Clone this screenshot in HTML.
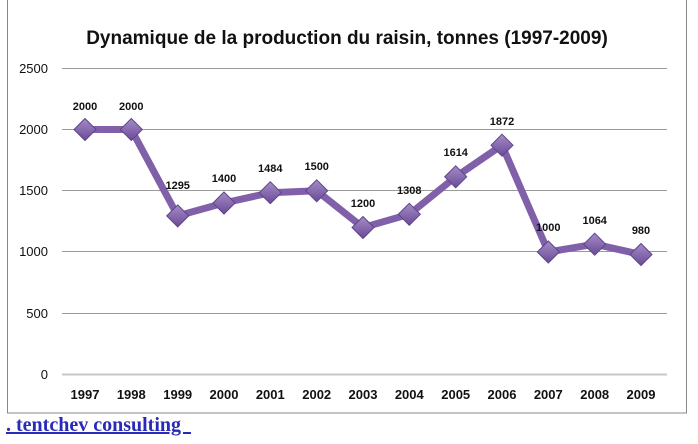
<!DOCTYPE html>
<html><head><meta charset="utf-8"><style>
body{margin:0;background:#fff;width:698px;height:444px;overflow:hidden}
a{position:absolute;left:6px;top:414px;font:bold 20px "Liberation Serif",serif;color:#2a2ab8;text-decoration:underline;white-space:pre}
</style></head><body>
<svg width="698" height="444" style="position:absolute;left:0;top:0" font-family="Liberation Sans, sans-serif">
<defs><linearGradient id="g" x1="0" y1="0" x2="0" y2="1"><stop offset="0" stop-color="#a58cc8"/><stop offset="1" stop-color="#6a4a96"/></linearGradient></defs>
<rect x="7.5" y="-2" width="679" height="415" fill="#fff" stroke="#888" stroke-width="1"/>
<text x="347" y="44" text-anchor="middle" font-size="19" font-weight="bold" fill="#111">Dynamique de la production du raisin, tonnes (1997-2009)</text>
<g stroke="#9a9a9a" stroke-width="1">
<line x1="62" x2="667" y1="68.5" y2="68.5"/><line x1="62" x2="667" y1="129.5" y2="129.5"/><line x1="62" x2="667" y1="190.5" y2="190.5"/><line x1="62" x2="667" y1="251.5" y2="251.5"/><line x1="62" x2="667" y1="313.5" y2="313.5"/><line x1="62" x2="667" y1="374.5" y2="374.5" stroke="#c8c8c8" stroke-width="2"/>
</g>
<g font-size="13" fill="#111" text-anchor="end">
<text x="48" y="73">2500</text><text x="48" y="134">2000</text><text x="48" y="195">1500</text><text x="48" y="256">1000</text><text x="48" y="318">500</text><text x="48" y="379">0</text>
</g>
<g font-size="13" font-weight="bold" fill="#111" text-anchor="middle">
<text x="85" y="399">1997</text><text x="131.3" y="399">1998</text><text x="177.7" y="399">1999</text><text x="224" y="399">2000</text><text x="270.3" y="399">2001</text><text x="316.7" y="399">2002</text><text x="363" y="399">2003</text><text x="409.3" y="399">2004</text><text x="455.7" y="399">2005</text><text x="502" y="399">2006</text><text x="548.3" y="399">2007</text><text x="594.7" y="399">2008</text><text x="641" y="399">2009</text>
</g>
<polyline fill="none" stroke="#8060a8" stroke-width="7" stroke-linejoin="round" points="85,129.5 131.3,129.5 177.7,215.9 224,203 270.3,192.7 316.7,190.8 363,227.5 409.3,214.3 455.7,176.8 502,145.2 548.3,252 594.7,244.2 641,254.5"/>
<g fill="url(#g)" stroke="#5e4488" stroke-width="1">
<path d="M85,118.5l11,11l-11,11l-11,-11z"/><path d="M131.3,118.5l11,11l-11,11l-11,-11z"/><path d="M177.7,204.9l11,11l-11,11l-11,-11z"/><path d="M224,192l11,11l-11,11l-11,-11z"/><path d="M270.3,181.7l11,11l-11,11l-11,-11z"/><path d="M316.7,179.8l11,11l-11,11l-11,-11z"/><path d="M363,216.5l11,11l-11,11l-11,-11z"/><path d="M409.3,203.3l11,11l-11,11l-11,-11z"/><path d="M455.7,165.8l11,11l-11,11l-11,-11z"/><path d="M502,134.2l11,11l-11,11l-11,-11z"/><path d="M548.3,241l11,11l-11,11l-11,-11z"/><path d="M594.7,233.2l11,11l-11,11l-11,-11z"/><path d="M641,243.5l11,11l-11,11l-11,-11z"/>
</g>
<g font-size="11" font-weight="bold" fill="#111" text-anchor="middle">
<text x="85" y="110">2000</text><text x="131.3" y="110">2000</text><text x="177.7" y="189">1295</text><text x="224" y="182">1400</text><text x="270.3" y="172">1484</text><text x="316.7" y="170">1500</text><text x="363" y="207">1200</text><text x="409.3" y="194">1308</text><text x="455.7" y="156">1614</text><text x="502" y="125">1872</text><text x="548.3" y="231">1000</text><text x="594.7" y="224">1064</text><text x="641" y="234">980</text>
</g>
</svg>
<a>. tentchev consulting  </a>
</body></html>
